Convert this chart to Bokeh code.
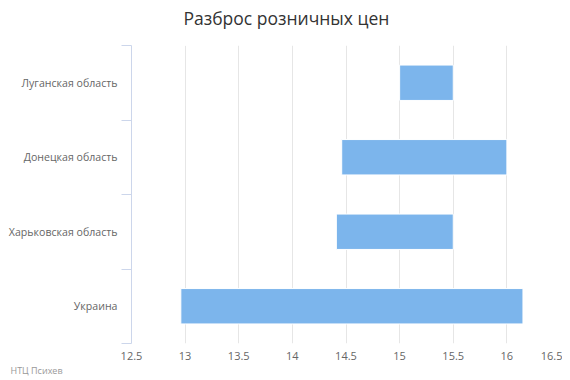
from bokeh.plotting import figure
from bokeh.models import Range1d, FixedTicker, Title, ColumnDataSource, LinearAxis
from bokeh.embed import file_html
from bokeh.resources import INLINE

categories = ["Украина", "Харьковская область", "Донецкая область", "Луганская область"]
low_values = [12.96, 14.41, 14.46, 15.0]
high_values = [16.15, 15.5, 16.0, 15.5]
x_ticks = [12.5, 13, 13.5, 14, 14.5, 15, 15.5, 16, 16.5]
x_tick_labels = ["12.5", "13", "13.5", "14", "14.5", "15", "15.5", "16", "16.5"]

FONT = "Open Sans"

positions = [i + 0.5 for i in range(len(categories))]
source = ColumnDataSource(dict(y=positions, low=low_values, high=high_values, cat=categories))

p = figure(frame_width=429, frame_height=298, output_backend="svg", toolbar_location=None,
           x_range=Range1d(12.5, 16.5), y_range=Range1d(0, len(categories)),
           min_border_left=131, min_border_right=2, min_border_top=45, min_border_bottom=34)
p.outline_line_color = None
p.background_fill_color = "white"
p.border_fill_color = "white"

p.hbar(y="y", left="low", right="high", height=0.475, source=source,
       fill_color="#7cb5ec", line_color="white", line_width=1)

# x axis (values)
xa = p.xaxis[0]
xa.ticker = FixedTicker(ticks=x_ticks)
xa.major_label_overrides = {t: l for t, l in zip(x_ticks, x_tick_labels)}
xa.axis_line_color = None
xa.major_tick_line_color = None
xa.major_tick_out = 0
xa.major_tick_in = 0
xa.minor_tick_line_color = None
xa.minor_tick_out = 0
xa.minor_tick_in = 0
xa.major_label_standoff = 8
xa.major_label_text_font = FONT
xa.major_label_text_font_size = "11px"
xa.major_label_text_color = "#666666"

# y axis (categories)
ya = p.yaxis[0]
ya.ticker = FixedTicker(ticks=positions, minor_ticks=list(range(len(categories) + 1)))
ya.major_label_overrides = {pos: c for pos, c in zip(positions, categories)}
ya.axis_line_color = "#ccd6eb"
ya.major_tick_line_color = None
ya.major_tick_out = 0
ya.major_tick_in = 0
ya.minor_tick_line_color = "#ccd6eb"
ya.minor_tick_out = 10
ya.minor_tick_in = 0
ya.major_label_standoff = 4
ya.major_label_text_font = FONT
ya.major_label_text_font_size = "10.6px"
ya.major_label_text_color = "#666666"

p.xgrid.ticker = FixedTicker(ticks=x_ticks)
p.xgrid.grid_line_color = "#e6e6e6"
p.ygrid.grid_line_color = None

# invisible spacer between the plot area and the title (one white tick on white)
spacer = LinearAxis(ticker=FixedTicker(ticks=[13], minor_ticks=[]), axis_line_color=None,
                    major_tick_line_color="white", minor_tick_line_color=None,
                    major_tick_out=14, major_tick_in=0, minor_tick_out=0, minor_tick_in=0,
                    major_label_standoff=0, major_label_overrides={13: ""},
                    major_label_text_font_size="1px")
p.add_layout(spacer, "above")

main_title = Title(text="Разброс розничных цен", text_font=FONT, text_font_size="17.5px",
                   text_font_style="normal", text_color="#333333",
                   align="left", offset=52, vertical_align="top", standoff=0)
p.add_layout(main_title, "above")

credits = Title(text="НТЦ Психев", text_font=FONT, text_font_size="9px",
                text_font_style="normal", text_color="#999999",
                align="left", offset=-121, vertical_align="middle", standoff=0)
p.add_layout(credits, "below")

open("out.html", "w").write(file_html(p, INLINE))
